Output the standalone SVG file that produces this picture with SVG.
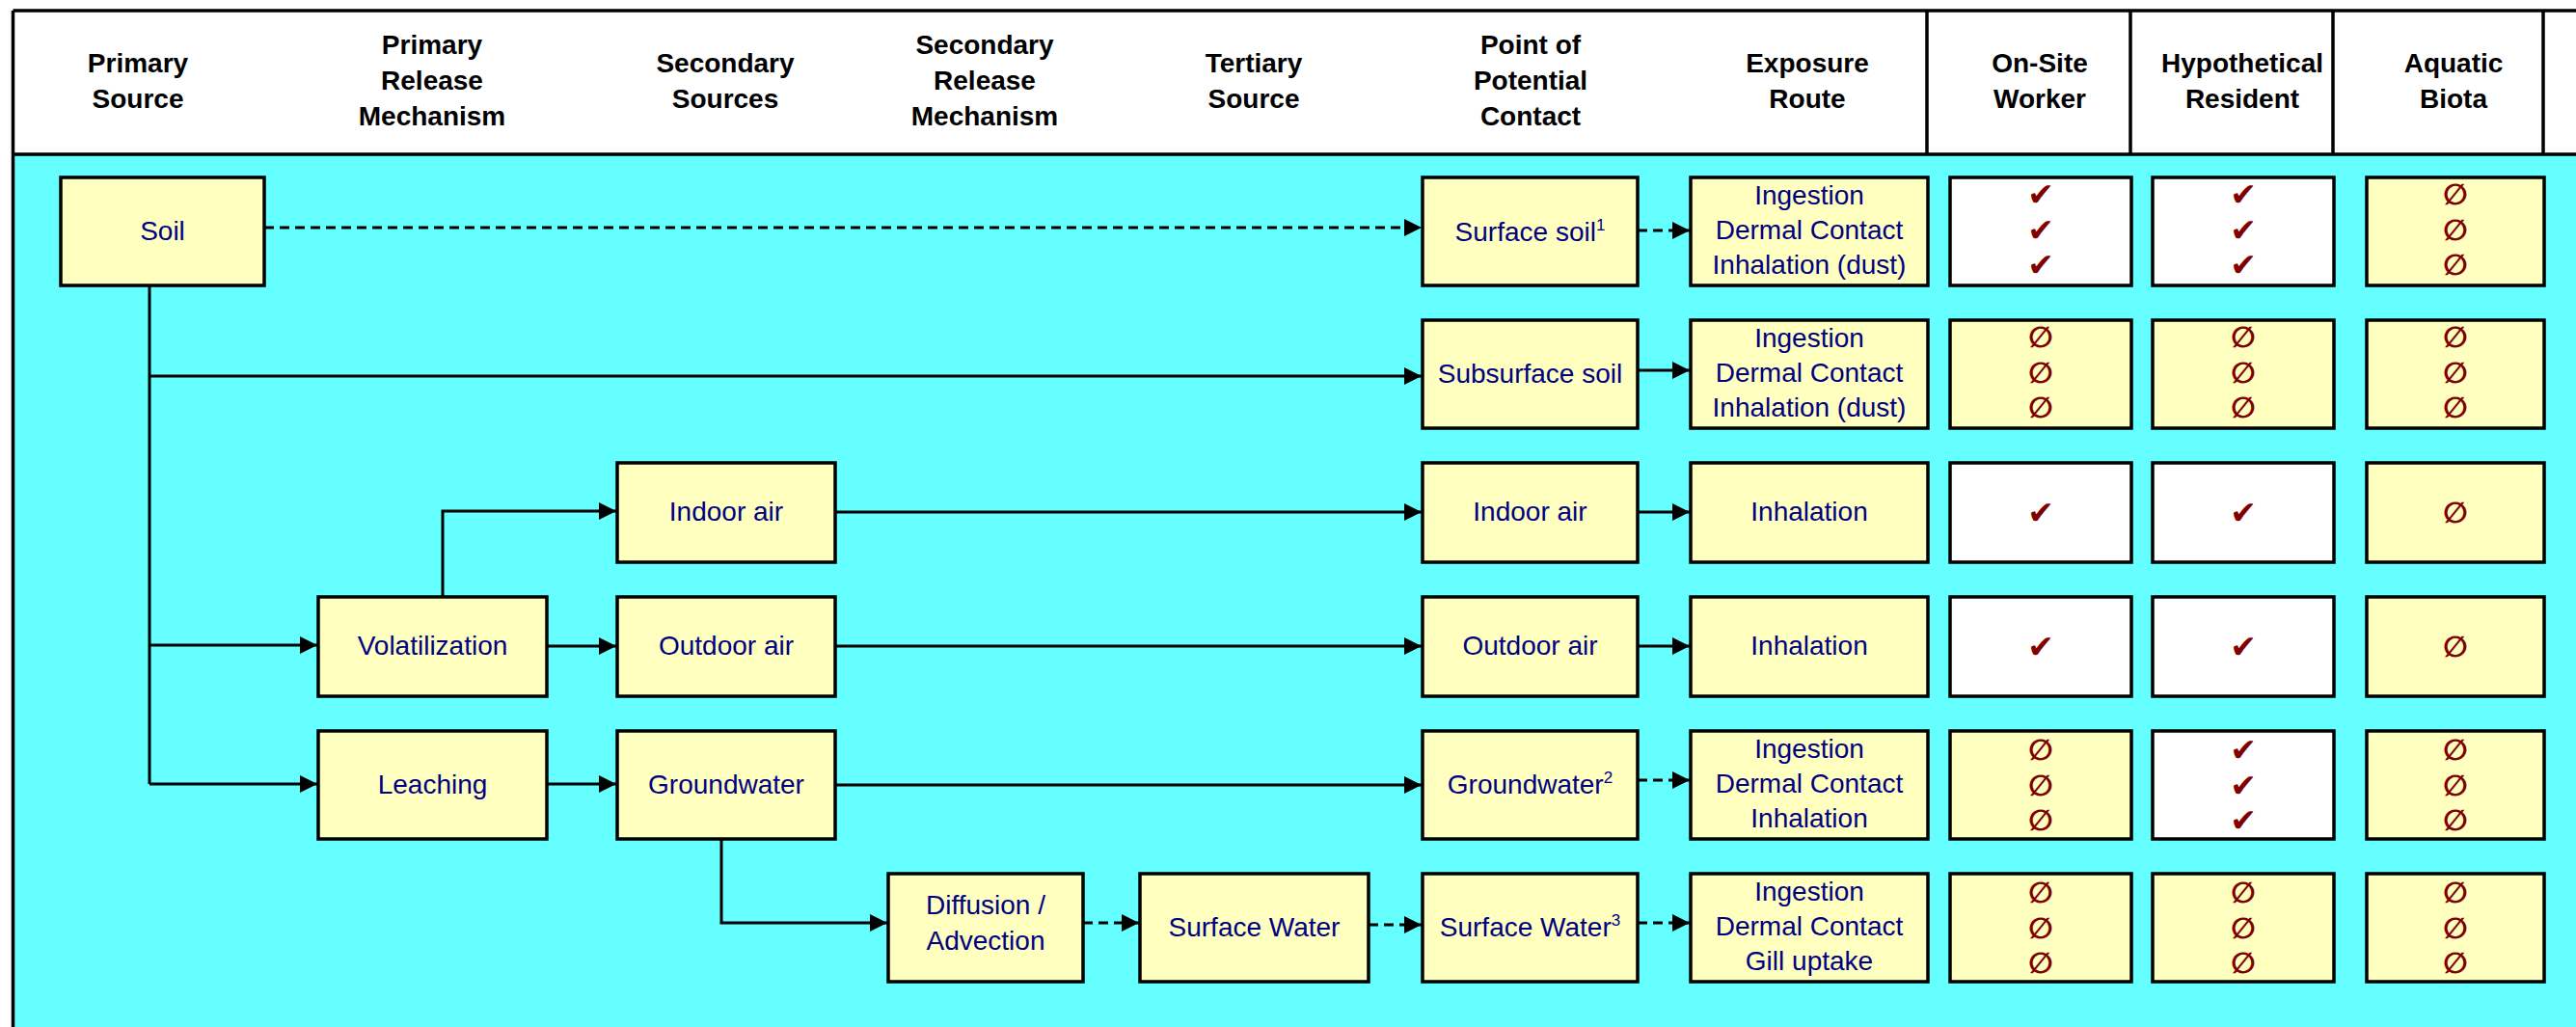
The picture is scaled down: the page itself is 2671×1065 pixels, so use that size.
<svg xmlns="http://www.w3.org/2000/svg" width="2671" height="1065" viewBox="0 0 2671 1065">
<style>
.bg{fill:#66FFFF}
.frame{fill:none;stroke:#000;stroke-width:3.5}
.box{stroke:#000;stroke-width:3.5}
.y{fill:#FFFFC0}
.w{fill:#FFFFFF}
.h{font-family:"Liberation Sans",Arial,sans-serif;font-weight:bold;font-size:28px;fill:#000;text-anchor:middle}
.t{font-family:"Liberation Sans",Arial,sans-serif;font-size:28px;fill:#000080;text-anchor:middle}
.sup{font-size:17px}
.ck{font-family:"DejaVu Sans",sans-serif;font-size:33px;fill:#800000;text-anchor:middle}
.no{font-family:"DejaVu Sans",sans-serif;font-weight:bold;font-size:30px;fill:#800000;text-anchor:middle}
.c{fill:none;stroke:#000;stroke-width:3}
.d{stroke-dasharray:10 6}
</style>
<defs>
<marker id="ah" markerUnits="userSpaceOnUse" markerWidth="18" markerHeight="18" refX="18" refY="9" orient="auto">
<path d="M0,0 L18,9 L0,18 Z" fill="#000"/>
</marker>
</defs>
<rect x="0" y="0" width="2671" height="1065" fill="#FFFFFF"/>
<rect class="bg" x="13.5" y="160" width="2660" height="910"/>
<g id="header">
<path class="frame" d="M13.5,11 H2675 M13.5,11 V1070 M13.5,160 H2675 M1998,11 V160 M2209,11 V160 M2419,11 V160 M2637,11 V160"/>
<text class="h" x="143" y="75">Primary</text><text class="h" x="143" y="112">Source</text>
<text class="h" x="448" y="56">Primary</text><text class="h" x="448" y="93">Release</text><text class="h" x="448" y="130">Mechanism</text>
<text class="h" x="752" y="75">Secondary</text><text class="h" x="752" y="112">Sources</text>
<text class="h" x="1021" y="56">Secondary</text><text class="h" x="1021" y="93">Release</text><text class="h" x="1021" y="130">Mechanism</text>
<text class="h" x="1300" y="75">Tertiary</text><text class="h" x="1300" y="112">Source</text>
<text class="h" x="1587" y="56">Point of</text><text class="h" x="1587" y="93">Potential</text><text class="h" x="1587" y="130">Contact</text>
<text class="h" x="1874" y="75">Exposure</text><text class="h" x="1874" y="112">Route</text>
<text class="h" x="2115" y="75">On-Site</text><text class="h" x="2115" y="112">Worker</text>
<text class="h" x="2325" y="75">Hypothetical</text><text class="h" x="2325" y="112">Resident</text>
<text class="h" x="2544" y="75">Aquatic</text><text class="h" x="2544" y="112">Biota</text>
</g>
<g id="connectors">
<path class="c d" d="M274,236 H1474" marker-end="url(#ah)"/>
<path class="c d" d="M1698,239 H1752" marker-end="url(#ah)"/>
<path class="c" d="M155,296 V813"/>
<path class="c" d="M155,390 H1474" marker-end="url(#ah)"/>
<path class="c" d="M1698,384 H1752" marker-end="url(#ah)"/>
<path class="c" d="M155,669 H329" marker-end="url(#ah)"/>
<path class="c" d="M155,813 H329" marker-end="url(#ah)"/>
<path class="c" d="M459,619 V530 H639" marker-end="url(#ah)"/>
<path class="c" d="M567,670 H639" marker-end="url(#ah)"/>
<path class="c" d="M866,531 H1474" marker-end="url(#ah)"/>
<path class="c" d="M1698,531 H1752" marker-end="url(#ah)"/>
<path class="c" d="M866,670 H1474" marker-end="url(#ah)"/>
<path class="c" d="M1698,670 H1752" marker-end="url(#ah)"/>
<path class="c" d="M567,813 H639" marker-end="url(#ah)"/>
<path class="c" d="M866,814 H1474" marker-end="url(#ah)"/>
<path class="c d" d="M1698,809 H1752" marker-end="url(#ah)"/>
<path class="c" d="M748,870 V957 H920" marker-end="url(#ah)"/>
<path class="c d" d="M1123,957 H1181" marker-end="url(#ah)"/>
<path class="c d" d="M1419,959 H1474" marker-end="url(#ah)"/>
<path class="c d" d="M1698,957 H1752" marker-end="url(#ah)"/>
</g>
<g id="soil"><rect class="box y" x="63" y="184" width="211" height="112"/><text class="t" x="168.5" y="249">Soil</text></g>
<g id="volatilization"><rect class="box y" x="330" y="619" width="237" height="103"/><text class="t" x="448.5" y="679">Volatilization</text></g>
<g id="leaching"><rect class="box y" x="330" y="758" width="237" height="112"/><text class="t" x="448.5" y="823">Leaching</text></g>
<g id="indoor-air-src"><rect class="box y" x="640" y="480" width="226" height="103"/><text class="t" x="753" y="540">Indoor air</text></g>
<g id="outdoor-air-src"><rect class="box y" x="640" y="619" width="226" height="103"/><text class="t" x="753" y="679">Outdoor air</text></g>
<g id="groundwater-src"><rect class="box y" x="640" y="758" width="226" height="112"/><text class="t" x="753" y="823">Groundwater</text></g>
<g id="diffusion"><rect class="box y" x="921" y="906" width="202" height="112"/><text class="t" x="1022" y="948">Diffusion /</text><text class="t" x="1022" y="985">Advection</text></g>
<g id="surface-water-src"><rect class="box y" x="1182" y="906" width="237" height="112"/><text class="t" x="1300.5" y="971">Surface Water</text></g>
<g id="poc-surface-soil"><rect class="box y" x="1475" y="184" width="223" height="112"/><text class="t" x="1586.5" y="250">Surface soil<tspan class="sup" dy="-11">1</tspan></text></g>
<g id="poc-subsurface-soil"><rect class="box y" x="1475" y="332" width="223" height="112"/><text class="t" x="1586.5" y="397">Subsurface soil</text></g>
<g id="poc-indoor-air"><rect class="box y" x="1475" y="480" width="223" height="103"/><text class="t" x="1586.5" y="540">Indoor air</text></g>
<g id="poc-outdoor-air"><rect class="box y" x="1475" y="619" width="223" height="103"/><text class="t" x="1586.5" y="679">Outdoor air</text></g>
<g id="poc-groundwater"><rect class="box y" x="1475" y="758" width="223" height="112"/><text class="t" x="1586.5" y="823">Groundwater<tspan class="sup" dy="-11">2</tspan></text></g>
<g id="poc-surface-water"><rect class="box y" x="1475" y="906" width="223" height="112"/><text class="t" x="1586.5" y="971">Surface Water<tspan class="sup" dy="-11">3</tspan></text></g>
<g id="route-1"><rect class="box y" x="1753" y="184" width="246" height="112"/><text class="t" x="1876" y="212">Ingestion</text><text class="t" x="1876" y="248">Dermal Contact</text><text class="t" x="1876" y="284">Inhalation (dust)</text></g>
<g id="route-2"><rect class="box y" x="1753" y="332" width="246" height="112"/><text class="t" x="1876" y="360">Ingestion</text><text class="t" x="1876" y="396">Dermal Contact</text><text class="t" x="1876" y="432">Inhalation (dust)</text></g>
<g id="route-3"><rect class="box y" x="1753" y="480" width="246" height="103"/><text class="t" x="1876" y="540">Inhalation</text></g>
<g id="route-4"><rect class="box y" x="1753" y="619" width="246" height="103"/><text class="t" x="1876" y="679">Inhalation</text></g>
<g id="route-5"><rect class="box y" x="1753" y="758" width="246" height="112"/><text class="t" x="1876" y="786">Ingestion</text><text class="t" x="1876" y="822">Dermal Contact</text><text class="t" x="1876" y="858">Inhalation</text></g>
<g id="route-6"><rect class="box y" x="1753" y="906" width="246" height="112"/><text class="t" x="1876" y="934">Ingestion</text><text class="t" x="1876" y="970">Dermal Contact</text><text class="t" x="1876" y="1006">Gill uptake</text></g>
<g id="worker-1"><rect class="box w" x="2022" y="184" width="188" height="112"/><text class="ck" x="2116" y="213">✔</text><text class="ck" x="2116" y="250">✔</text><text class="ck" x="2116" y="286">✔</text></g>
<g id="worker-2"><rect class="box y" x="2022" y="332" width="188" height="112"/><text class="no" x="2116" y="360">∅</text><text class="no" x="2116" y="397">∅</text><text class="no" x="2116" y="433">∅</text></g>
<g id="worker-3"><rect class="box w" x="2022" y="480" width="188" height="103"/><text class="ck" x="2116" y="543">✔</text></g>
<g id="worker-4"><rect class="box w" x="2022" y="619" width="188" height="103"/><text class="ck" x="2116" y="682">✔</text></g>
<g id="worker-5"><rect class="box y" x="2022" y="758" width="188" height="112"/><text class="no" x="2116" y="788">∅</text><text class="no" x="2116" y="825">∅</text><text class="no" x="2116" y="861">∅</text></g>
<g id="worker-6"><rect class="box y" x="2022" y="906" width="188" height="112"/><text class="no" x="2116" y="936">∅</text><text class="no" x="2116" y="973">∅</text><text class="no" x="2116" y="1009">∅</text></g>
<g id="resident-1"><rect class="box w" x="2232" y="184" width="188" height="112"/><text class="ck" x="2326" y="213">✔</text><text class="ck" x="2326" y="250">✔</text><text class="ck" x="2326" y="286">✔</text></g>
<g id="resident-2"><rect class="box y" x="2232" y="332" width="188" height="112"/><text class="no" x="2326" y="360">∅</text><text class="no" x="2326" y="397">∅</text><text class="no" x="2326" y="433">∅</text></g>
<g id="resident-3"><rect class="box w" x="2232" y="480" width="188" height="103"/><text class="ck" x="2326" y="543">✔</text></g>
<g id="resident-4"><rect class="box w" x="2232" y="619" width="188" height="103"/><text class="ck" x="2326" y="682">✔</text></g>
<g id="resident-5"><rect class="box w" x="2232" y="758" width="188" height="112"/><text class="ck" x="2326" y="789">✔</text><text class="ck" x="2326" y="826">✔</text><text class="ck" x="2326" y="862">✔</text></g>
<g id="resident-6"><rect class="box y" x="2232" y="906" width="188" height="112"/><text class="no" x="2326" y="936">∅</text><text class="no" x="2326" y="973">∅</text><text class="no" x="2326" y="1009">∅</text></g>
<g id="aquatic-1"><rect class="box y" x="2454" y="184" width="184" height="112"/><text class="no" x="2546" y="212">∅</text><text class="no" x="2546" y="249">∅</text><text class="no" x="2546" y="285">∅</text></g>
<g id="aquatic-2"><rect class="box y" x="2454" y="332" width="184" height="112"/><text class="no" x="2546" y="360">∅</text><text class="no" x="2546" y="397">∅</text><text class="no" x="2546" y="433">∅</text></g>
<g id="aquatic-3"><rect class="box y" x="2454" y="480" width="184" height="103"/><text class="no" x="2546" y="542">∅</text></g>
<g id="aquatic-4"><rect class="box y" x="2454" y="619" width="184" height="103"/><text class="no" x="2546" y="681">∅</text></g>
<g id="aquatic-5"><rect class="box y" x="2454" y="758" width="184" height="112"/><text class="no" x="2546" y="788">∅</text><text class="no" x="2546" y="825">∅</text><text class="no" x="2546" y="861">∅</text></g>
<g id="aquatic-6"><rect class="box y" x="2454" y="906" width="184" height="112"/><text class="no" x="2546" y="936">∅</text><text class="no" x="2546" y="973">∅</text><text class="no" x="2546" y="1009">∅</text></g>
</svg>
